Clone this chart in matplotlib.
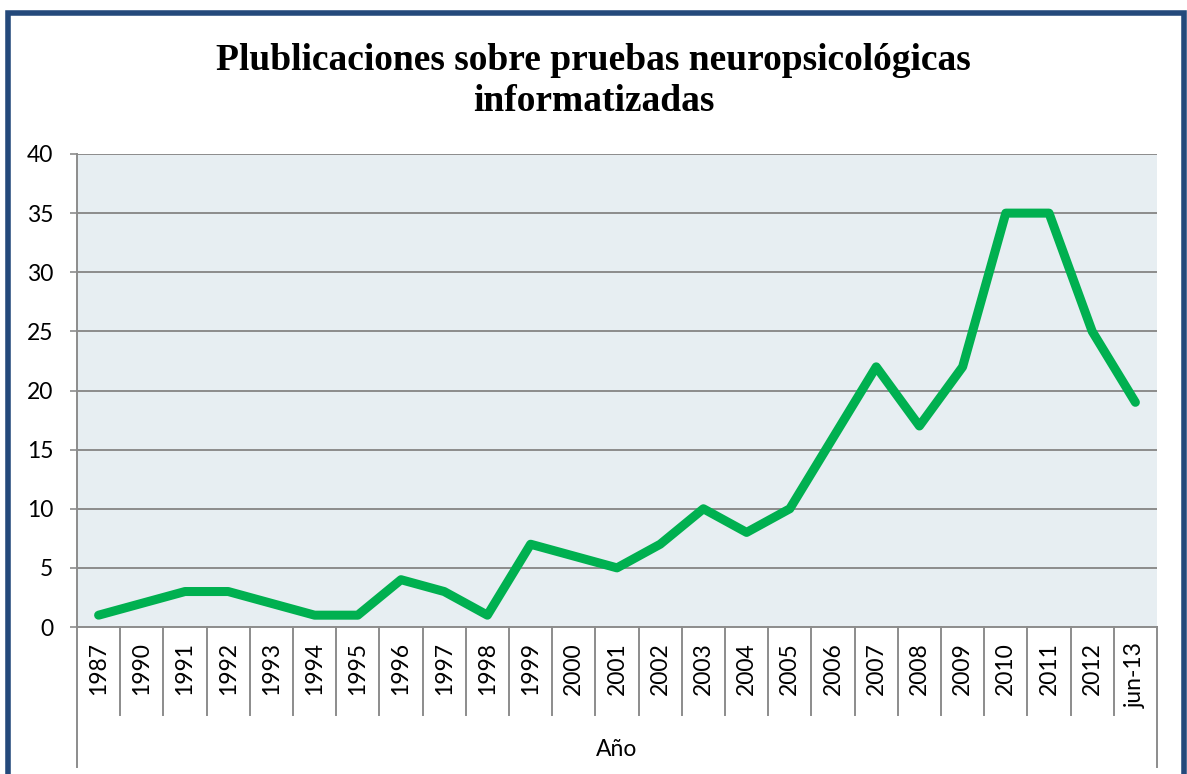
import matplotlib
matplotlib.use("Agg")
import matplotlib.pyplot as plt
from matplotlib.patches import Rectangle
from matplotlib.transforms import blended_transform_factory

# Publication counts per year
years = ["1987", "1990", "1991", "1992", "1993", "1994", "1995", "1996", "1997",
         "1998", "1999", "2000", "2001", "2002", "2003", "2004", "2005", "2006",
         "2007", "2008", "2009", "2010", "2011", "2012", "jun-13"]
counts = [1, 2, 3, 3, 2, 1, 1, 4, 3, 1, 7, 6, 5, 7, 10, 8, 10, 16, 22, 17, 22,
          35, 35, 25, 19]
y_ticks = [0, 5, 10, 15, 20, 25, 30, 35, 40]

W, H = 1187, 774
fig = plt.figure(figsize=(W / 100, H / 100), dpi=100)
fig.patch.set_facecolor("white")

grid_col = "#8C8C8C"
label_font = ["Lato", "DejaVu Sans"]
fs = 16.5

ax = fig.add_axes([77 / W, 1 - 627 / H, (1157 - 77) / W, (627 - 154) / H])
ax.set_facecolor("#E7EEF2")

n = len(years)
x = list(range(n))
ax.plot(x, counts, color="#00B050", lw=6.5, solid_joinstyle="round",
        solid_capstyle="round", zorder=3, clip_on=False)

ax.set_xlim(-0.5, n - 0.5)
ax.set_ylim(0, 40)
ax.set_yticks(y_ticks)
ax.set_yticklabels([str(v) for v in y_ticks], fontsize=fs, family=label_font)
ax.tick_params(axis="y", length=5, width=1.2, color=grid_col, pad=12)
for v in y_ticks[1:]:
    ax.axhline(v, color=grid_col, lw=1.4, zorder=1)

ax.set_xticks(x)
ax.set_xticklabels(years, rotation=90, fontsize=fs, family=label_font,
                   va="top", ha="center")
ax.tick_params(axis="x", length=0, pad=11)

for s in ["top", "right"]:
    ax.spines[s].set_visible(False)
for s in ["left", "bottom"]:
    ax.spines[s].set_color(grid_col)
    ax.spines[s].set_linewidth(1.4)

# category separators and outer frame of the axis label band
trans = blended_transform_factory(ax.transData, ax.transAxes)
sep_depth = -88 / 473
outer_depth = -140 / 473
for b in range(1, n):
    ax.plot([b - 0.5, b - 0.5], [0, sep_depth], color=grid_col, lw=1.4,
            transform=trans, clip_on=False)
for b in (-0.5, n - 0.5):
    ax.plot([b, b], [0, outer_depth], color=grid_col, lw=1.4,
            transform=trans, clip_on=False)

ax.text(0.5, -123 / 473, "Año", transform=ax.transAxes, ha="center",
        va="center", fontsize=fs, family=label_font)

fig.text(0.5, 1 - 81 / H,
         "Plublicaciones sobre pruebas neuropsicológicas\ninformatizadas",
         ha="center", va="center", fontsize=27, fontweight="bold",
         family=["Liberation Serif", "DejaVu Serif"], linespacing=1.22)

# outer frame
fig.patches.append(Rectangle((8 / W, -0.05), (1184 - 8) / W, 1.05 - 13 / H,
                             transform=fig.transFigure, fill=False,
                             edgecolor="#24497B", lw=4, zorder=10))

fig.savefig("out.png", dpi=100)
